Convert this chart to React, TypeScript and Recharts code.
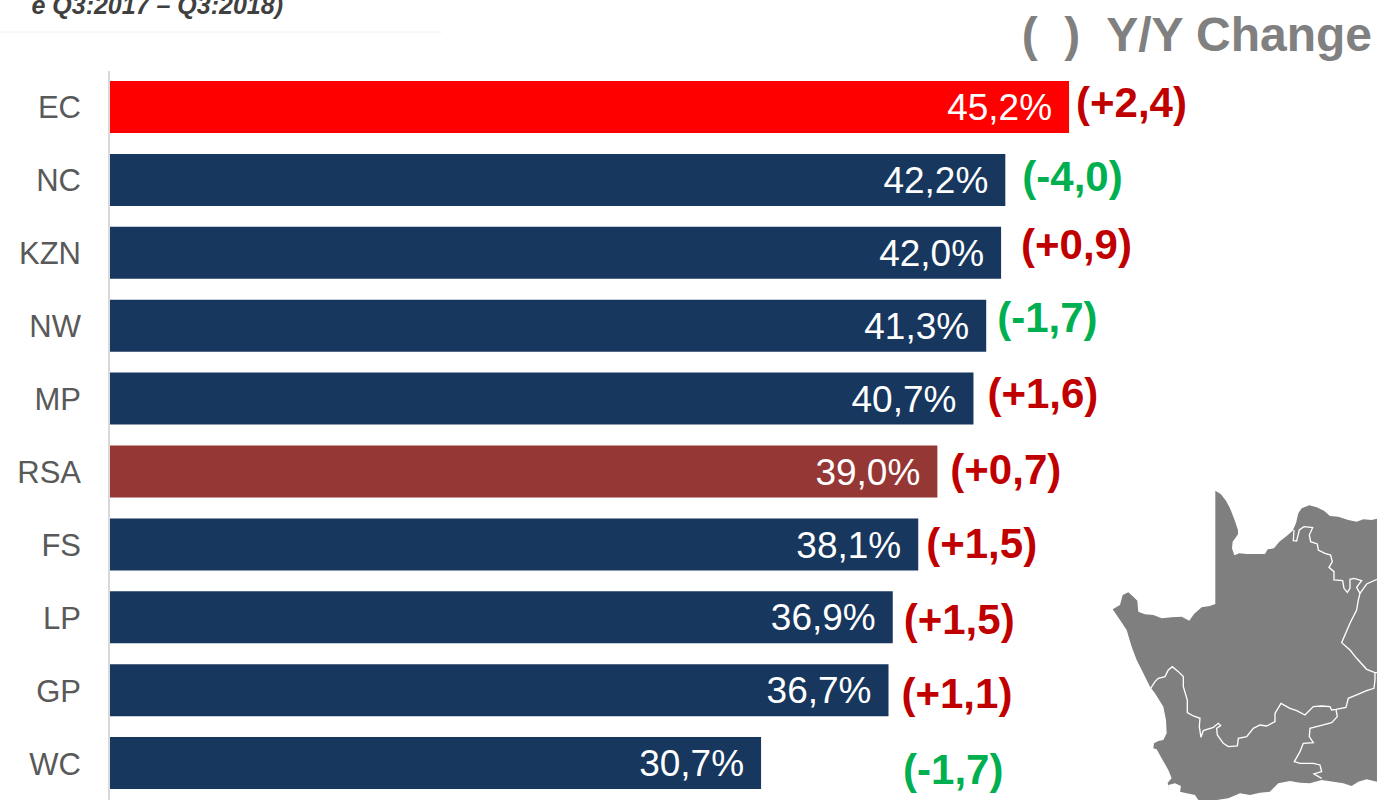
import React from "react";
import { Bar, BarChart, Cell, LabelList, XAxis, YAxis } from "recharts";

const regions = ["EC", "NC", "KZN", "NW", "MP", "RSA", "FS", "LP", "GP", "WC"];
const rates = [45.2, 42.2, 42.0, 41.3, 40.7, 39.0, 38.1, 36.9, 36.7, 30.7];
const changes = [2.4, -4.0, 0.9, -1.7, 1.6, 0.7, 1.5, 1.5, 1.1, -1.7];
// hand placement of the change labels, as on the slide
const changeDx = [7, 17, 20, 11, 14, 13, 8, 11, 13, 142];
const changeDy = [-5, -3, -8, -8, -5, -2, -1, 2, 3, 6];

const data = regions.map((region, i) => ({ region, rate: rates[i], change: changes[i] }));

const FONT = '"Liberation Sans", Arial, sans-serif';
const NAVY = "#17375E";

const barColor = (region: string) => {
  if (region === "EC") return "#FF0000";
  if (region === "RSA") return "#953735";
  return NAVY;
};

const comma = (v: number) => v.toFixed(1).replace(".", ",");

function ChangeLabel(props: any) {
  const { x, y, width, height, index, value } = props;
  const text = `(${value > 0 ? "+" : "-"}${comma(Math.abs(value))})`;
  return (
    <text
      x={x + width + changeDx[index]}
      y={y + height / 2 + changeDy[index]}
      dominantBaseline="central"
      fontFamily={FONT}
      fontWeight={700}
      fontSize={42}
      fill={value > 0 ? "#C00000" : "#00B050"}
    >
      {text}
    </text>
  );
}

// province outline
const mapOutline =
  "M346,32 L362,42 L378,62 L390,85 L403,118 L414,150 L414,163 L398,185 L396,205 L403,226 L418,220 L440,222 L470,222 L495,222 L503,208 L522,205 L538,185 L560,168 L578,152 L588,130 L595,100 L605,85 L628,76 L650,82 L672,92 L690,108 L715,110 L745,120 L770,125 L790,118 L815,120 L831,116 L831,905 L800,898 L775,905 L755,918 L730,910 L700,905 L665,900 L630,910 L600,908 L570,903 L535,910 L510,935 L480,938 L450,945 L420,940 L385,955 L350,960 L295,960 L285,945 L260,940 L240,935 L243,918 L225,910 L205,915 L208,932 L203,908 L215,895 L205,870 L185,835 L170,808 L160,805 L162,790 L175,783 L190,780 L200,760 L198,720 L190,680 L165,640 L150,620 L130,580 L110,540 L95,500 L80,450 L60,420 L38,388 L60,375 L68,345 L85,337 L100,350 L112,362 L115,395 L135,403 L160,405 L185,415 L215,412 L245,410 L268,422 L282,402 L305,382 L330,378 L346,372 Z";
const mapBorders = [
  "M582,150 L580,182 L590,183 L598,150 L612,140 L638,143 L628,165 L632,185 L652,192 L655,210 L675,220 L692,225 L697,245 L687,262 L702,275 L702,300 L728,302 L732,325 L742,337 L750,325 L750,298 L762,295 L785,302 L770,322 L780,340 L775,360 L770,390 L750,430 L725,488 L750,510 L770,535 L800,568 L825,578 L831,578",
  "M780,340 L800,312 L831,298",
  "M825,578 L825,600 L822,625 L800,632 L770,645 L745,655 L738,682 L708,688 L695,690 L690,680 L665,678 L640,680 L615,705 L590,692 L570,685 L543,670 L525,700 L525,725 L500,738 L480,735 L460,745 L440,770 L415,775 L412,798 L385,800 L370,790 L352,765 L350,745 L362,737 L355,730 L340,742 L310,752 L303,772 L298,740 L300,715 L280,708 L262,698 L262,660 L250,620 L250,590 L235,575 L217,560 L205,570 L195,590 L175,595 L165,605 L152,625",
  "M708,688 L712,710 L695,728 L670,735 L630,745 L628,770 L640,788 L610,790 L600,815 L583,845 L600,850 L640,850 L660,855 L665,875 L642,882 L665,895",
];

export default function App() {
  return (
    <div style={{ position: "absolute", left: 0, top: 0, width: 1377, height: 800, overflow: "hidden", background: "#fff" }}>
      <svg width={1377} height={800} style={{ position: "absolute", left: 0, top: 0 }}>
        <text x={283} y={14} textAnchor="end" fontFamily={FONT} fontWeight={700} fontStyle="italic" fontSize={25} fill="#404040">
          e Q3:2017 – Q3:2018)
        </text>
        <line x1={0} x2={442} y1={32} y2={32} stroke="#F2F2F2" strokeWidth={1} />
        <text x={1372} y={51} textAnchor="end" fontFamily={FONT} fontWeight={700} fontSize={48} fill="#808080" xmlSpace="preserve">
          (  )  Y/Y Change
        </text>
        <g transform="translate(1100,480) scale(0.3333)">
          <path d={mapOutline} fill="#7F7F7F" />
          {mapBorders.map((d, i) => (
            <path key={i} d={d} fill="none" stroke="#FFFFFF" strokeWidth={4} />
          ))}
        </g>
      </svg>
      <div style={{ position: "absolute", left: 0, top: 0 }}>
        <BarChart
          width={1377}
          height={800}
          data={data}
          layout="vertical"
          margin={{ top: 71, right: 206, bottom: 0, left: 0 }}
          style={{ overflow: "visible" }}
        >
          <XAxis type="number" domain={[0, 50]} hide />
          <YAxis
            type="category"
            dataKey="region"
            width={109}
            axisLine={{ stroke: "#D9D9D9", strokeWidth: 2 }}
            tickLine={false}
            tickSize={0}
            tickMargin={28}
            tick={{ fill: "#595959", fontSize: 31, fontFamily: FONT }}
            interval={0}
          />
          <Bar dataKey="rate" barSize={52} isAnimationActive={false}>
            {data.map((d) => (
              <Cell key={d.region} fill={barColor(d.region)} />
            ))}
            <LabelList
              dataKey="rate"
              position="insideRight"
              offset={17}
              formatter={(v: any) => `${comma(v)}%`}
              style={{ fill: "#fff", fontSize: 37, fontFamily: FONT }}
            />
            <LabelList dataKey="change" content={<ChangeLabel />} />
          </Bar>
        </BarChart>
      </div>
    </div>
  );
}
